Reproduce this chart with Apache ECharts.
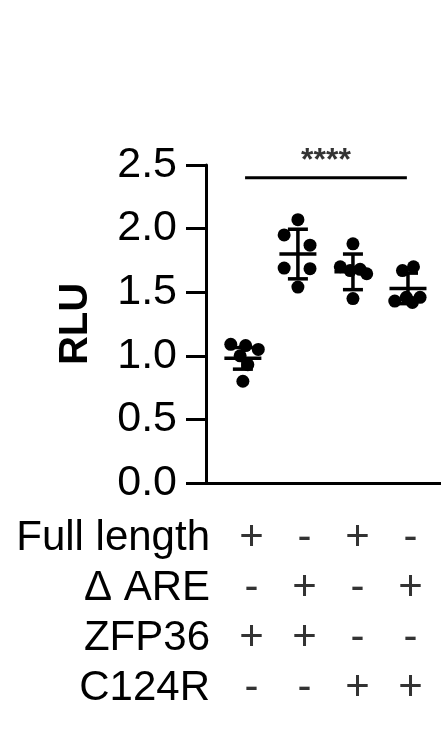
<!DOCTYPE html>
<html>
<head>
    <meta charset="utf-8">
    <script src="https://cdn.jsdelivr.net/npm/echarts@6/dist/echarts.min.js"></script>
    <title>RLU</title>
    <style>
        html, body { margin: 0; padding: 0; background: #fff; }
        #main { width: 441px; height: 735px; }
    </style>
</head>
<body>
<div id="main"></div>
<script type="text/javascript">
    // groups along the x axis (value positions)
    var groupPos = [1, 2, 3, 4];
    // replicate points per group
    var group1 = [1.09, 1.08, 1.05, 1.00, 0.93, 0.80];
    var group2 = [2.07, 1.95, 1.87, 1.69, 1.685, 1.54];
    var group3 = [1.88, 1.70, 1.67, 1.68, 1.645, 1.45];
    var group4 = [1.67, 1.70, 1.43, 1.46, 1.46, 1.42];
    // horizontal scatter of the dots (x units)
    var jitter1 = [-0.22, 0.05, 0.28, -0.05, 0.09, 0];
    var jitter2 = [0, -0.25, 0.22, -0.25, 0.22, 0];
    var jitter3 = [0, -0.23, -0.05, 0.13, 0.25, 0];
    var jitter4 = [-0.1, 0.1, -0.24, -0.03, 0.22, 0.08];
    // mean and SD bars
    var means = [0.98, 1.80, 1.66, 1.53];
    var sds = [0.085, 0.195, 0.14, 0.12];
    // y ticks
    var yMin = 0, yMax = 2.5, yStep = 0.5;
    // significance bar
    var sigFrom = 1.04, sigTo = 3.98, sigY = 2.4, sigText = '****';
    // table under the chart
    var rowNames = ['Full length', 'Δ ARE', 'ZFP36', 'C124R'];
    var rowSigns = [
        ['+', '-', '+', '-'],
        ['-', '+', '-', '+'],
        ['+', '+', '-', '-'],
        ['-', '-', '+', '+']
    ];

    var FONT = 'Liberation Sans, Arial, sans-serif';
    var groups = [group1, group2, group3, group4];
    var jitters = [jitter1, jitter2, jitter3, jitter4];

    var dots = [];
    for (var g = 0; g < groups.length; g++) {
        for (var i = 0; i < groups[g].length; i++) {
            dots.push([groupPos[g] + jitters[g][i], groups[g][i]]);
        }
    }
    var bars = [];
    for (var g = 0; g < means.length; g++) {
        bars.push([groupPos[g], means[g], sds[g]]);
    }
    var table = [];
    for (var r = 0; r < rowNames.length; r++) {
        for (var c = 0; c < rowSigns[r].length; c++) {
            table.push([c, r, rowSigns[r][c]]);
        }
    }

    var myChart = echarts.init(document.getElementById('main'));
    var option = {
        backgroundColor: '#fff',
        animation: false,
        grid: [
            {left: 206, right: 0, top: 165, bottom: 252},
            {left: 225, right: 4, top: 514, bottom: 22}
        ],
        xAxis: [{
            type: 'value',
            gridIndex: 0,
            min: 0.33,
            max: 4.6,
            axisLine: {show: true, onZero: false, lineStyle: {color: '#000', width: 3}},
            axisTick: {show: false},
            axisLabel: {show: false},
            splitLine: {show: false}
        }, {
            type: 'category',
            gridIndex: 1,
            data: groupPos,
            show: false
        }],
        yAxis: [{
            type: 'value',
            gridIndex: 0,
            min: yMin,
            max: yMax,
            interval: yStep,
            name: 'RLU',
            nameLocation: 'middle',
            nameRotate: 90,
            nameGap: 110,
            nameTextStyle: {color: '#000', fontSize: 40, fontWeight: 'bold', fontFamily: FONT},
            axisLine: {show: true, onZero: false, lineStyle: {color: '#000', width: 3}},
            axisTick: {show: true, length: 20, lineStyle: {color: '#000', width: 3}},
            axisLabel: {
                color: '#000', fontSize: 43, fontFamily: FONT, margin: 29,
                formatter: function (v) { return v.toFixed(1); }
            },
            splitLine: {show: false}
        }, {
            type: 'category',
            gridIndex: 1,
            inverse: true,
            data: rowNames,
            axisLine: {show: false},
            axisTick: {show: false},
            axisLabel: {color: '#000', fontSize: 42, fontFamily: FONT, margin: 15, interval: 0},
            splitLine: {show: false}
        }],
        series: [{
            type: 'scatter',
            xAxisIndex: 0, yAxisIndex: 0,
            symbolSize: 13,
            itemStyle: {color: '#000', opacity: 1},
            data: dots,
            z: 3
        }, {
            type: 'custom',
            xAxisIndex: 0, yAxisIndex: 0,
            data: bars,
            z: 4,
            renderItem: function (params, api) {
                var x = api.value(0), m = api.value(1), s = api.value(2);
                var top = api.coord([x, m + s]);
                var bot = api.coord([x, m - s]);
                var mid = api.coord([x, m]);
                var st = {stroke: '#000', lineWidth: 3.5};
                return {
                    type: 'group',
                    children: [
                        {type: 'line', shape: {x1: top[0], y1: top[1], x2: bot[0], y2: bot[1]}, style: st},
                        {type: 'line', shape: {x1: top[0] - 10, y1: top[1], x2: top[0] + 10, y2: top[1]}, style: st},
                        {type: 'line', shape: {x1: bot[0] - 10, y1: bot[1], x2: bot[0] + 10, y2: bot[1]}, style: st},
                        {type: 'line', shape: {x1: mid[0] - 18.5, y1: mid[1], x2: mid[0] + 18.5, y2: mid[1]}, style: st}
                    ]
                };
            }
        }, {
            type: 'line',
            xAxisIndex: 0, yAxisIndex: 0,
            symbol: 'none',
            lineStyle: {color: '#000', width: 3},
            data: [[sigFrom, sigY], [sigTo, sigY]]
        }, {
            type: 'scatter',
            xAxisIndex: 0, yAxisIndex: 0,
            symbolSize: 1,
            itemStyle: {color: 'rgba(0,0,0,0)'},
            data: [[(sigFrom + sigTo) / 2, sigY]],
            label: {
                show: true, position: 'top', distance: 0,
                formatter: sigText,
                color: '#000', fontSize: 32, fontWeight: 'bold', fontFamily: FONT
            }
        }, {
            type: 'scatter',
            xAxisIndex: 1, yAxisIndex: 1,
            symbolSize: 1,
            itemStyle: {color: 'rgba(0,0,0,0)'},
            data: table,
            label: {
                show: true, position: 'inside',
                formatter: function (p) { return p.value[2]; },
                color: '#000', fontSize: 42, fontFamily: FONT
            }
        }]
    };
    myChart.setOption(option);
</script>
</body>
</html>
